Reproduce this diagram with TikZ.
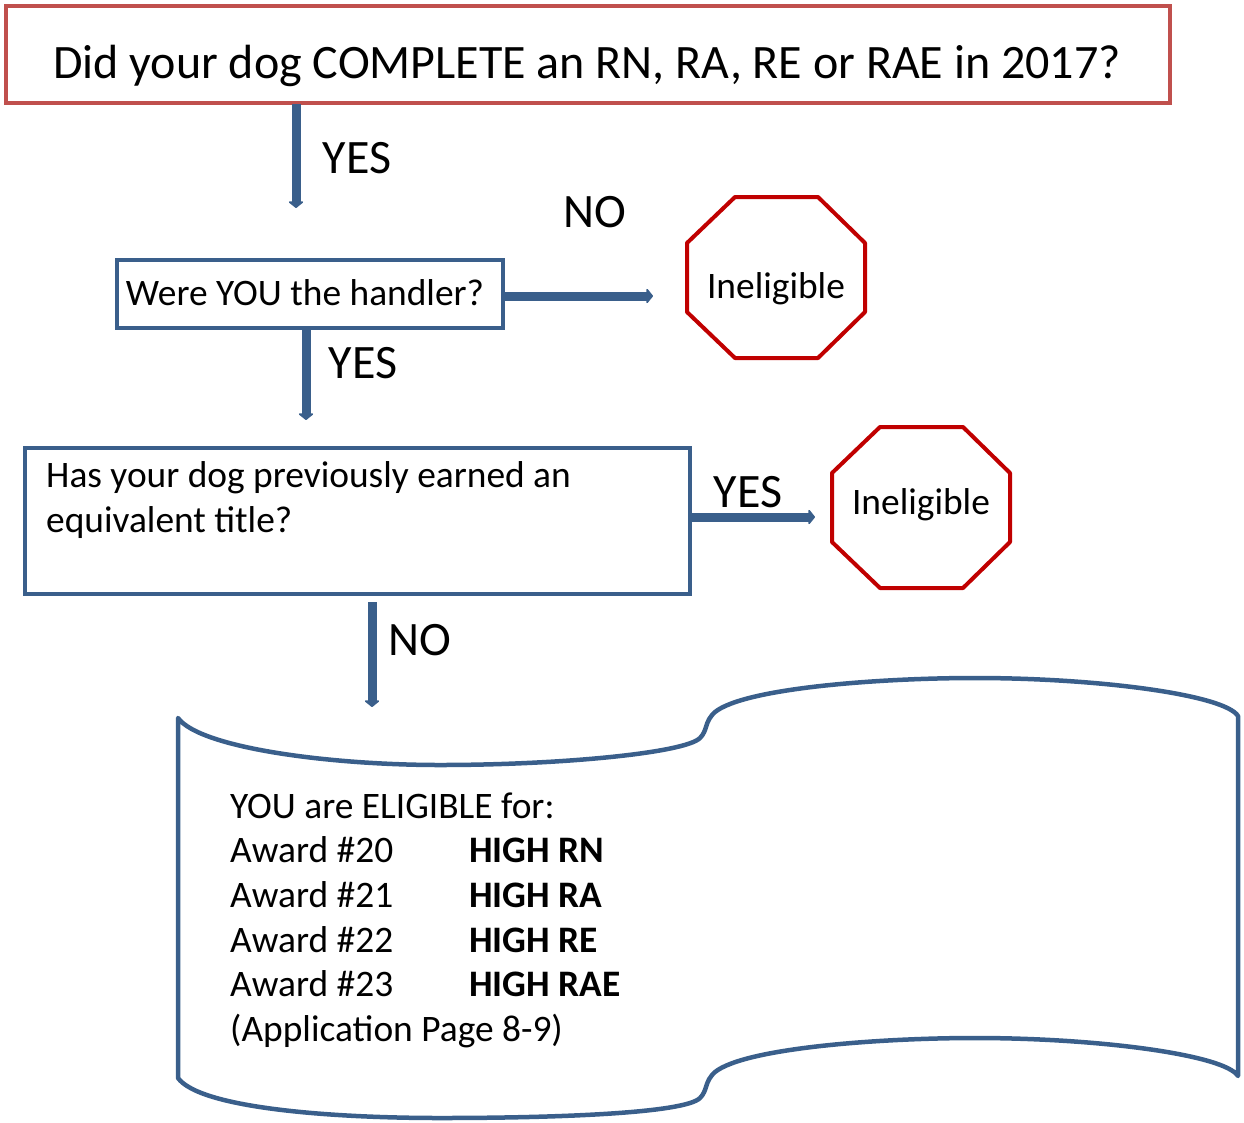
\documentclass[tikz,border=0pt]{standalone}
\usepackage{fontspec}
\setmainfont{Carlito}
\usetikzlibrary{arrows.meta}
\definecolor{titlered}{RGB}{192,80,77}
\definecolor{flowblue}{RGB}{58,95,139}
\definecolor{stopred}{RGB}{192,0,0}
\begin{document}
\begin{tikzpicture}[x=1pt,y=-1pt,
  titlebox/.style={draw=titlered,line width=4pt,inner sep=0pt},
  flowbox/.style={draw=flowblue,line width=4pt,inner sep=0pt},
  flowarrow/.style={draw=flowblue,line width=9pt,-{Triangle[width=17pt,length=7pt,round]}},
  stopsign/.style={draw=stopred,line width=4pt,line join=round},
  lbl/.style={inner sep=0pt,font=\fontsize{48}{54}\selectfont},
  body/.style={inner sep=0pt,font=\fontsize{37.4}{44}\selectfont},
  txt/.style={body,anchor=base west},
  scroll/.style={draw=flowblue,line width=4.5pt,line join=round}]
\useasboundingbox (0,0) rectangle (1244,1122);

% title
\node[titlebox,minimum width=1164pt,minimum height=97pt] (title) at (588,54.5) {};
\node[lbl,anchor=base] (titletext) at (587,78) {Did your dog COMPLETE an RN, RA, RE or RAE in 2017?};

% box 2
\node[flowbox,minimum width=386pt,minimum height=68pt] (handler) at (310,294) {};
\node[body] (handlertext) at (305,293) {Were YOU the handler?};

% box 3
\node[flowbox,minimum width=665pt,minimum height=146pt] (prev) at (357.5,521) {};
\node[txt] (prevA) at (46,487) {Has your dog previously earned an};
\node[txt] (prevB) at (46,532) {equivalent title?};

% octagons
\draw[stopsign] (735,197) -- (818,197) -- (865,243) -- (865,312) -- (818,358) -- (735,358) -- (687,312) -- (687,243) -- cycle;
\node[body] (stopA) at (776,289) {Ineligible};
\draw[stopsign] (880,427) -- (963,427) -- (1010,473) -- (1010,542) -- (963,588) -- (880,588) -- (832,542) -- (832,473) -- cycle;
\node[body] (stopB) at (921,505) {Ineligible};

% scroll
\draw[scroll] (178,718)
  .. controls (200,748) and (330,765) .. (440,765)
  .. controls (560,765) and (685,753) .. (700,738)
  .. controls (708,730) and (704,722) .. (715,712)
  .. controls (745,688) and (880,678) .. (975,678)
  .. controls (1100,678) and (1225,695) .. (1238,716)
  -- (1238,1076)
  .. controls (1225,1055) and (1100,1038) .. (975,1038)
  .. controls (880,1038) and (745,1048) .. (715,1072)
  .. controls (704,1082) and (708,1090) .. (700,1098)
  .. controls (685,1113) and (560,1118) .. (440,1118)
  .. controls (330,1118) and (200,1108) .. (178,1078)
  -- cycle;
\node[txt] (s1) at (230,818) {YOU are ELIGIBLE for:};
\node[txt] (s2) at (230,862) {Award \#20};
\node[txt] (s3) at (230,907) {Award \#21};
\node[txt] (s4) at (230,952) {Award \#22};
\node[txt] (s5) at (230,996) {Award \#23};
\node[txt] (s6) at (230,1041) {(Application Page 8-9)};
\node[txt,font=\fontsize{37.4}{44}\selectfont\bfseries] (b2) at (469,862) {HIGH RN};
\node[txt,font=\fontsize{37.4}{44}\selectfont\bfseries] (b3) at (469,907) {HIGH RA};
\node[txt,font=\fontsize{37.4}{44}\selectfont\bfseries] (b4) at (469,952) {HIGH RE};
\node[txt,font=\fontsize{37.4}{44}\selectfont\bfseries] (b5) at (469,996) {HIGH RAE};

% arrow end coordinates
\coordinate (a1s) at (296,104);
\coordinate (a1e) at (296,208);
\coordinate (a2e) at (653,296);
\coordinate (a3s) at (306,330);
\coordinate (a3e) at (306,420);
\coordinate (a4e) at (815,517);
\coordinate (a5s) at (372,602);
\coordinate (a5e) at (372,707);

\draw[flowarrow] (a1s) -- (a1e);
\draw[flowarrow] (handler.east |- a2e) -- (a2e);
\draw[flowarrow] (a3s) -- (a3e);
\draw[flowarrow] (prev.east |- a4e) -- (a4e);
\draw[flowarrow] (a5s) -- (a5e);

% labels
\node[lbl] (l1) at (357,158) {YES};
\node[lbl] (l2) at (595,212) {NO};
\node[lbl] (l3) at (363,363) {YES};
\node[lbl] (l4) at (748,492) {YES};
\node[lbl] (l5) at (420,640) {NO};
\end{tikzpicture}
\end{document}
